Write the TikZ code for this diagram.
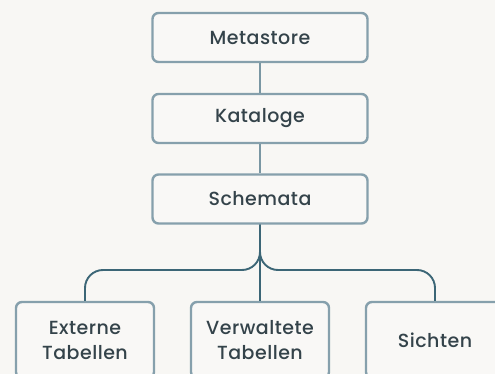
\documentclass[tikz,border=0pt]{standalone}
\usepackage{fontspec}
\setmainfont{Poppins Medium}[LetterSpace=2.5]
\begin{document}
\definecolor{bgcol}{HTML}{F8F7F4}
\definecolor{boxfill}{HTML}{F9F8F6}
\definecolor{boxline}{HTML}{86A0AC}
\definecolor{linkcol}{HTML}{7A97A3}
\definecolor{treecol}{HTML}{3C6676}
\definecolor{txtcol}{HTML}{34434A}
\begin{tikzpicture}[x=1pt,y=-1pt,
  level/.style={draw=boxline, line width=2.4pt, fill=boxfill, rounded corners=6pt,
    minimum width=215pt, minimum height=49pt, text=txtcol,
    font=\fontsize{19}{25}\selectfont, align=center, inner sep=0pt},
  leaf/.style={level, minimum width=138pt, minimum height=76pt},
  link/.style={draw=linkcol, line width=2.4pt},
  branch/.style={draw=treecol, line width=1.9pt}]
  \fill[bgcol] (0,0) rectangle (495,374);
  \useasboundingbox (0,0) rectangle (495,374);
  \clip (0,0) rectangle (495,374);

  % hierarchy levels
  \node[level] (meta) at (260,37.5) {Metastore};
  \node[level] (kat)  at (260,118.5) {Kataloge};
  \node[level] (sch)  at (260,199) {Schemata};

  % object kinds inside a schema
  \node[leaf] (ext)   at (85,340)  {Externe\\Tabellen};
  \node[leaf] (verw)  at (260,340) {Verwaltete\\Tabellen};
  \node[leaf] (sicht) at (435,340) {Sichten};

  % links between the levels
  \draw[link] (meta.south) -- (kat.north);
  \draw[link] (kat.south) -- (sch.north);

  % branching tree below the schema level
  \draw[branch] (sch.south) -- (verw.north);
  \draw[branch, rounded corners=18pt] (sch.south) -- (sch.south |- 0,270) -- (ext.north |- 0,270) -- (ext.north);
  \draw[branch, rounded corners=18pt] (sch.south) -- (sch.south |- 0,270) -- (sicht.north |- 0,270) -- (sicht.north);
\end{tikzpicture}
\end{document}
